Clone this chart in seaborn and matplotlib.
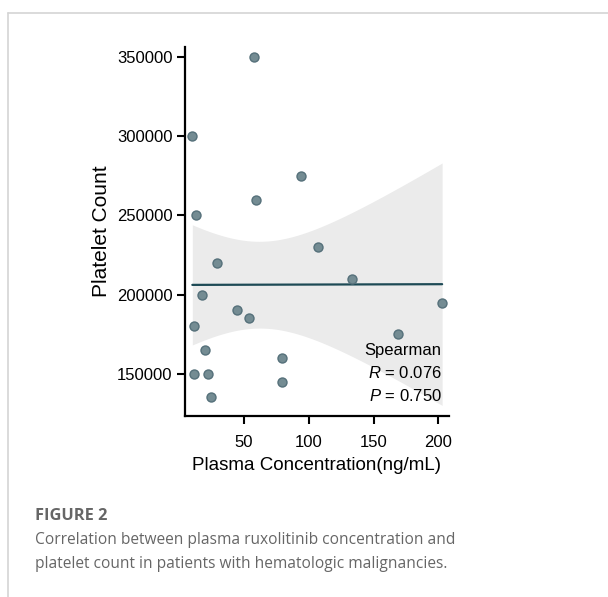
import numpy as np
import pandas as pd
import matplotlib
matplotlib.use("Agg")
import matplotlib.pyplot as plt
import seaborn as sns

# -------------------------------
# data
# -------------------------------
conc = [58, 10, 12.5, 59, 94, 29, 107, 133, 17.5, 203,
        44.5, 54, 11, 169, 19.5, 79, 11.5, 22, 79, 24.5]
platelets = [350000, 300000, 250000, 260000, 275000, 220000, 230000, 210000, 200000, 195000,
             190000, 185000, 180000, 175000, 165000, 160000, 150000, 150000, 145000, 135000]
x_ticks = [50, 100, 150, 200]
y_ticks = [150000, 200000, 250000, 300000, 350000]
stats_lines = ["Spearman", r"$\it{R}$ = 0.076", r"$\it{P}$ = 0.750"]

df = pd.DataFrame({"conc": conc, "plt": platelets})

# -------------------------------
# linear fit with analytic 95% band (like ggplot geom_smooth)
# -------------------------------
x = df["conc"].to_numpy(float)
y = df["plt"].to_numpy(float)
n = len(x)
slope, icpt = np.polyfit(x, y, 1)
resid = y - (icpt + slope * x)
s = np.sqrt((resid ** 2).sum() / (n - 2))
sxx = ((x - x.mean()) ** 2).sum()
t975 = 2.1009  # t quantile, df = 18
grid = np.linspace(x.min(), x.max(), 200)
fit = icpt + slope * grid
half = t975 * s * np.sqrt(1 / n + (grid - x.mean()) ** 2 / sxx)

sns.set_style("ticks")
plt.rcParams["font.family"] = ["Liberation Sans", "DejaVu Sans"]
plt.rcParams["mathtext.fontset"] = "custom"
plt.rcParams["mathtext.it"] = "Liberation Sans:italic"
plt.rcParams["mathtext.rm"] = "Liberation Sans"
plt.rcParams["text.color"] = "black"
plt.rcParams["axes.labelcolor"] = "black"
plt.rcParams["xtick.color"] = "black"
plt.rcParams["ytick.color"] = "black"

fig = plt.figure(figsize=(6.08, 5.97), dpi=100)
ax = fig.add_axes([0.304, 0.3037, 0.4345, 0.6173])

ax.fill_between(grid, fit - half, fit + half, color="#ebebeb", linewidth=0, zorder=1)
sns.lineplot(x=grid, y=fit, ax=ax, color="#1d4a55", linewidth=1.6, zorder=2)
sns.scatterplot(data=df, x="conc", y="plt", ax=ax, s=42, color="#748c93",
                edgecolor="#55707a", linewidth=1.0, zorder=3)

ax.set_xlim(4.2, 208.3)
ax.set_ylim(123500, 356300)
ax.set_xticks(x_ticks)
ax.set_yticks(y_ticks)
ax.set_xticklabels([str(v) for v in x_ticks])
ax.set_yticklabels([str(v) for v in y_ticks])
ax.tick_params(axis="both", labelsize=12, length=6, width=1.5, color="black", labelcolor="black")
ax.tick_params(axis="x", pad=8)
ax.tick_params(axis="y", pad=3)
for sp in ["left", "bottom"]:
    ax.spines[sp].set_linewidth(1.6)
    ax.spines[sp].set_color("black")
sns.despine(ax=ax)

ax.set_xlabel("Plasma Concentration(ng/mL)", fontsize=13.5, labelpad=5, color="black")
ax.set_ylabel("Platelet Count", fontsize=15, labelpad=4, color="black")

for i, line in enumerate(stats_lines):
    ax.text(0.972, 0.178 - i * 0.0624, line, transform=ax.transAxes, ha="right", va="center",
            fontsize=12, color="black")

# -------------------------------
# figure frame and caption
# -------------------------------
fig.add_artist(plt.Line2D([7.5 / 608, 1], [1 - 13 / 597, 1 - 13 / 597], color="#d4d4d4", lw=1.2))
fig.add_artist(plt.Line2D([7.5 / 608, 7.5 / 608], [0, 1 - 13 / 597], color="#d4d4d4", lw=1.2))

fig.text(35 / 608, 1 - 516 / 597, "FIGURE 2", fontsize=11.8, color="#666666",
         family="Open Sans", weight="bold", va="center")
fig.text(35 / 608, 1 - 540 / 597, "Correlation between plasma ruxolitinib concentration and",
         fontsize=11.2, color="#666666", family="Open Sans", va="center")
fig.text(35 / 608, 1 - 564 / 597, "platelet count in patients with hematologic malignancies.",
         fontsize=11.2, color="#666666", family="Open Sans", va="center")

fig.savefig("out.png", dpi=100)
